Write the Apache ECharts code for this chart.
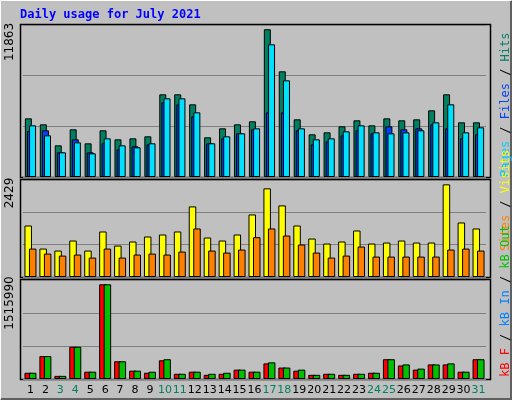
<!DOCTYPE html>
<html><head><meta charset="utf-8">
<script src="https://cdn.jsdelivr.net/npm/echarts@6/dist/echarts.min.js"></script>
<style>html,body{margin:0;padding:0;background:#c0c0c0}#c{width:512px;height:400px}</style>
</head><body><div id="c"></div>
<script>
const days = ['1','2','3','4','5','6','7','8','9','10','11','12','13','14','15','16','17','18','19','20','21','22','23','24','25','26','27','28','29','30','31'];
const weekend = ['3','4','10','11','17','18','24','25','31'];
const hits  = [4711,4230,2543,3828,2704,3748,3025,3105,3266,6639,6639,5836,3186,3908,4230,4471,11863,8486,4631,3427,3587,4069,4551,4149,4711,4551,4631,5354,6639,4390,4390];
const files = [3694,3748,1981,3025,1981,2704,2222,2463,2623,5996,5836,4872,2704,3105,3507,3828,5193,5193,3748,2623,2864,3346,3748,3507,4069,3828,3908,4230,3908,3105,3427];
const pages = [4149,3346,1981,2784,1901,3105,2543,2383,2704,6318,6318,5193,2704,3266,3507,3908,10654,7763,3908,3025,3105,3667,4149,3587,3507,3587,3748,4390,5836,3587,3989];
const visits= [1350,745,693,956,693,1193,824,930,1061,1114,1193,1850,1035,956,1114,1640,2324,1877,1350,1008,877,930,1219,877,903,956,903,903,2429,1429,1272];
const sites = [745,614,561,588,509,745,509,588,614,588,666,1272,693,640,719,1044,1272,1087,851,640,509,561,798,535,535,535,535,535,719,745,693];
const kbF   = [99954,366498,49977,516429,116613,1515990,283203,133272,99954,299862,83295,116613,66636,83295,149931,116613,249885,183249,133272,66636,83295,66636,83295,99954,316521,216567,149931,233226,233226,116613,316521];
const kbOut = [99954,366498,49977,516429,116613,1515990,283203,133272,116613,316521,83295,116613,83295,99954,149931,116613,266544,183249,149931,66636,83295,66636,83295,99954,316521,233226,166590,233226,249885,116613,316521];
const maxLabels = ['11863','2429','1515990'];

const ch = echarts.init(document.getElementById('c'));
const L=23,R=26;
const grids=[{left:L,right:R,top:25,height:152},{left:L,right:R,top:180,height:97},{left:L,right:R,top:280,height:99}];
const ymax=[12205,2543,1585000];
const xAxes=grids.map((g,i)=>({type:'category',gridIndex:i,data:days.map(d=>({value:d,textStyle:{color:weekend.includes(d)?'#008060':'#000'}})),
  axisLine:{show:false},axisTick:{show:false},
  axisLabel:{show:i===2,fontFamily:'DejaVu Sans',fontSize:11,margin:6,interval:0}}));
const yAxes=grids.map((g,i)=>({type:'value',gridIndex:i,min:0,max:ymax[i],interval:ymax[i]/3,
  axisLabel:{show:false},axisLine:{show:false},axisTick:{show:false},
  splitLine:{show:true,lineStyle:{color:'#808080',width:1}}}));
const bs=(name,data,gi,color,w,gap)=>({type:'bar',name,data,xAxisIndex:gi,yAxisIndex:gi,barWidth:w,barGap:gap,
  itemStyle:{color,borderColor:'#000',borderWidth:1},animation:false,silent:true});
const series=[
  bs('Hits',hits,0,'#008060',7,'-70%'),bs('Files',files,0,'#0040ff',7,'-70%'),bs('Pages',pages,0,'#00e0ff',7,'-70%'),
  bs('Visits',visits,1,'#ffff00',7.5,'-40%'),bs('Sites',sites,1,'#ff8000',7.5,'-40%'),
  bs('kB F',kbF,2,'#ff0000',7.5,'-40%'),bs('kB Out',kbOut,2,'#00c000',7.5,'-40%')];
const panels=[[25,177],[180,277],[280,379]];
const graphic=[
  {type:'rect',shape:{x:0.5,y:0.5,width:510,height:398},style:{fill:'#c0c0c0',stroke:'#ffffff',lineWidth:1},z:-10},
  {type:'polyline',shape:{points:[[511,1],[511,399],[1,399]]},style:{stroke:'#606060',lineWidth:2,fill:null},z:-9},
  {type:'text',x:20,y:9,style:{text:'Daily usage for July 2021',fill:'#0000ff',font:'bold 12px "DejaVu Sans Mono"'}}
];
panels.forEach(p=>graphic.push({type:'rect',shape:{x:20.5,y:p[0]-0.5,width:470,height:p[1]-p[0]+1},style:{fill:'#c0c0c0',stroke:'#000',lineWidth:1.5},z:-5}));
const labY=[42,193,303];
maxLabels.forEach((t,i)=>graphic.push({type:'text',x:16,y:labY[i],rotation:Math.PI/2,style:{text:t,fill:'#000',font:'12px "DejaVu Sans"',align:'center',verticalAlign:'bottom'}}));
function leg(y,parts){graphic.push({type:'text',x:506,y:y,rotation:Math.PI/2,style:{
  text:parts.map((p,i)=>'{'+'s'+i+'|'+p[0]+'}').join(''),
  rich:Object.fromEntries(parts.map((p,i)=>['s'+i,{fill:p[1],font:'12px "DejaVu Sans Mono"'}])),
  align:'left',verticalAlign:'middle'}});}
const sl='#000';
leg(177,[['Pages','#00c8ff'],[' / ',sl],['Files','#0040ff'],[' / ',sl],['Hits','#008060']]);
leg(251,[['Sites','#ff8000'],[' / ',sl],['Visits','#ffff00']]);
leg(377,[['kB F','#ff0000'],[' / ',sl],['kB In','#0080ff'],[' / ',sl],['kB Out','#00c000']]);
ch.setOption({animation:false,grid:grids,xAxis:xAxes,yAxis:yAxes,series,graphic});
</script></body></html>
